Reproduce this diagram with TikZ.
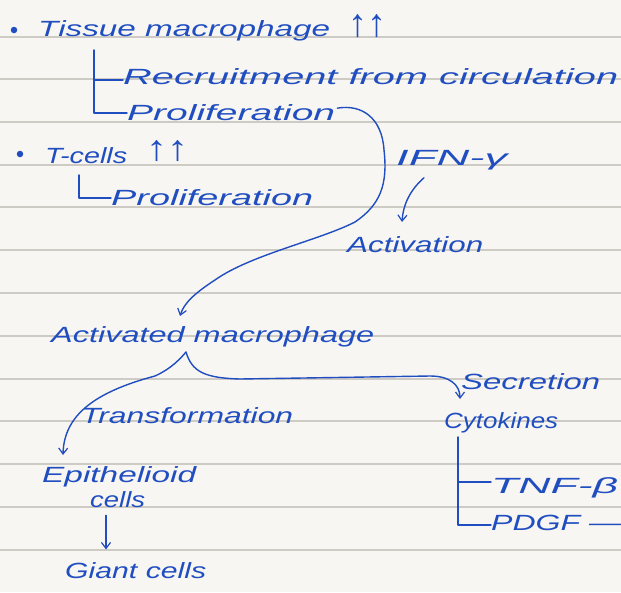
\documentclass[tikz,border=0pt]{standalone}
\usepackage{fontspec}
\setmainfont{Liberation Sans}
\usetikzlibrary{arrows.meta}
\definecolor{paper}{RGB}{248,246,242}
\definecolor{rule}{RGB}{206,202,196}
\definecolor{ink}{RGB}{32,78,192}
% stretch a label to a given width, keeping its height
\newcommand\hw[2]{\resizebox{#1pt}{\height}{#2}}
\tikzset{
  txt/.style={anchor=base west, inner sep=0pt, text=ink, font=\fontsize{22}{26}\selectfont\itshape},
  pen/.style={draw=ink, line width=1.4pt, line cap=round, line join=round},
  tip/.style={pen, -{Straight Barb[length=6pt, width=9pt, line width=1.2pt]}},
  bullet/.style={circle, fill=ink, inner sep=0pt, minimum size=6.5pt}
}
\begin{document}
\begin{tikzpicture}[x=1pt, y=-1pt]
% ruled paper
\path[fill=paper, use as bounding box] (0,0) rectangle (621,592);
\foreach \yy in {37,79,122,165,207,250,293,336,379,421,464,507,550}
  \draw[rule, line width=1.6pt] (0,\yy) -- (621,\yy);

% first bullet: tissue macrophages
\node[bullet] (b1) at (14,30) {};
\node[txt] (tissue) at (38,36) {\hw{292}{Tissue macrophage}};
\node[txt] (up1) at (348,36) {\resizebox{38pt}{22pt}{↑↑}};
\node[txt] (recruit) at (123,84) {\hw{495}{Recruitment from circulation}};
\node[txt] (prolif1) at (127,120) {\hw{208}{Proliferation}};
\coordinate (br1top) at (94,50);
\draw[pen] (br1top) |- (prolif1.base west |- 0,113) coordinate (br1end);
\draw[pen] (94,80) -- (recruit.base west |- 0,80);

% second bullet: T-cells
\node[bullet] (b2) at (20,154) {};
\node[txt] (tcells) at (45,163) {\hw{82}{T-cells}};
\node[txt] (up2) at (146,160) {\resizebox{42pt}{20pt}{↑↑}};
\node[txt] (prolif2) at (111,205) {\hw{202}{Proliferation}};
\draw[pen] (79,175) |- (prolif2.base west |- 0,198);

% IFN-gamma drives activation
\node[txt] (ifn) at (396,165) {\hw{111}{IFN-γ}};
\node[txt] (activation) at (347,252) {\hw{136}{Activation}};
\draw[tip] (ifn.south west) ++(28,8) .. controls (410,190) and (403,205) .. (402,222);

% activated macrophage
\node[txt] (actmac) at (51,342) {\hw{323}{Activated macrophage}};
\draw[tip] (prolif1.east) ++(2,-4) .. controls (362,104) and (382,118) .. (384,150)
  .. controls (388,185) and (380,205) .. (355,222)
  .. controls (320,240) and (250,255) .. (215,280)
  .. controls (195,293) and (184,303) .. (180,316);

% branches from the activated macrophage
\coordinate (split) at (186,352);
\node[txt] (transf) at (81,423) {\hw{212}{Transformation}};
\node[txt] (secr) at (461,389) {\hw{139}{Secretion}};
\node[txt] (cyto) at (444,428) {\hw{114}{Cytokines}};
\node[txt] (epi) at (42,482) {\hw{154}{Epithelioid}};
\node[txt] (cells) at (90,507) {\hw{55}{cells}};
\node[txt] (giant) at (65,578) {\hw{141}{Giant cells}};
\draw[tip] (split) .. controls (176,364) and (166,371) .. (155,376)
  .. controls (95,392) and (64,415) .. (63,455);
\draw[tip] (split) .. controls (192,372) and (205,378) .. (240,379)
  -- (430,376) .. controls (450,376) and (460,385) .. (460,399);
\draw[tip] (cells.south west) ++(16,8) -- ++(0,34);

% cytokines released
\node[txt] (tnf) at (491,493) {\hw{127}{TNF-β}};
\node[txt] (pdgf) at (491,530) {\hw{130}{PDGF —}};
\draw[pen] (458,437) |- (tnf.base west |- 0,482);
\draw[pen] (458,470) |- (pdgf.base west |- 0,525);
\end{tikzpicture}
\end{document}
